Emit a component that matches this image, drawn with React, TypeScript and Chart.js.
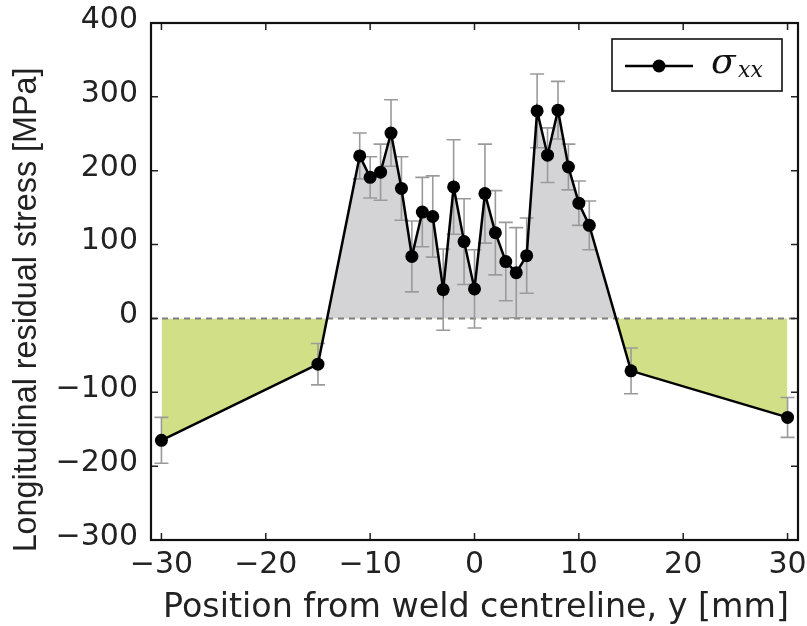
import React, { useEffect, useRef } from 'react';
import { Chart, registerables } from 'chart.js';

Chart.register(...registerables);

// Position from weld centreline, y [mm]
const positions = [-30, -15, -11, -10, -9, -8, -7, -6, -5, -4, -3, -2, -1, 0, 1, 2, 3, 4, 5, 6, 7, 8, 9, 10, 11, 15, 30];
// Longitudinal residual stress sigma_xx [MPa]
const stress = [-165, -62, 220, 191, 198, 251, 176, 84, 144, 138, 39, 178, 104, 40, 169, 116, 77, 62, 85, 281, 221, 282, 205, 156, 126, -71, -134];
// Error bar half-widths [MPa]
const errors = [31, 28, 31, 28, 38, 45, 43, 48, 47, 55, 55, 64, 58, 53, 67, 57, 53, 61, 51, 50, 37, 39, 31, 30, 33, 31, 27];

const xTicks = [-30, -20, -10, 0, 10, 20, 30];
const yTicks = [-300, -200, -100, 0, 100, 200, 300, 400];

const xTitle = 'Position from weld centreline, y [mm]';
const yTitle = 'Longitudinal residual stress [MPa]';
const legendLabel = 'σ';
const legendSub = 'xx';

const fmt = (v: number | string) => String(v).replace('-', '\u2212');

const decor = {
  id: 'decor',
  beforeDatasetDraw(chart: any) {
    const { ctx, chartArea: a, scales } = chart;
    const x = scales.x;
    const y = scales.y;
    ctx.save();
    // zero line
    const y0 = y.getPixelForValue(0);
    ctx.strokeStyle = '#7f7f7f';
    ctx.lineWidth = 2;
    ctx.setLineDash([6, 5]);
    ctx.beginPath();
    ctx.moveTo(a.left, y0);
    ctx.lineTo(a.right, y0);
    ctx.stroke();
    ctx.setLineDash([]);
    // error bars
    ctx.strokeStyle = '#9a9a9a';
    ctx.lineWidth = 1.6;
    positions.forEach((p, i) => {
      const px = x.getPixelForValue(p);
      const t = y.getPixelForValue(stress[i] + errors[i]);
      const b = y.getPixelForValue(stress[i] - errors[i]);
      ctx.beginPath();
      ctx.moveTo(px, t);
      ctx.lineTo(px, b);
      ctx.moveTo(px - 7, t);
      ctx.lineTo(px + 7, t);
      ctx.moveTo(px - 7, b);
      ctx.lineTo(px + 7, b);
      ctx.stroke();
    });
    ctx.restore();
  },
  afterDraw(chart: any) {
    const { ctx, chartArea: a, scales } = chart;
    const x = scales.x;
    const y = scales.y;
    ctx.save();
    // inward ticks
    ctx.strokeStyle = '#222';
    ctx.lineWidth = 1.5;
    const tl = 7;
    ctx.beginPath();
    xTicks.forEach((v) => {
      const px = x.getPixelForValue(v);
      ctx.moveTo(px, a.bottom);
      ctx.lineTo(px, a.bottom - tl);
      ctx.moveTo(px, a.top);
      ctx.lineTo(px, a.top + tl);
    });
    yTicks.forEach((v) => {
      const py = y.getPixelForValue(v);
      ctx.moveTo(a.left, py);
      ctx.lineTo(a.left + tl, py);
      ctx.moveTo(a.right, py);
      ctx.lineTo(a.right - tl, py);
    });
    ctx.stroke();
    // frame
    ctx.strokeStyle = '#111';
    ctx.lineWidth = 2.2;
    ctx.strokeRect(a.left, a.top, a.right - a.left, a.bottom - a.top);
    // axis titles
    ctx.fillStyle = '#222';
    ctx.textBaseline = 'alphabetic';
    ctx.textAlign = 'center';
    ctx.font = '33.3px "DejaVu Sans"';
    ctx.fillText(xTitle, 476, 617);
    ctx.save();
    ctx.translate(36, 310);
    ctx.rotate(-Math.PI / 2);
    ctx.font = '32.3px "Liberation Sans"';
    ctx.fillText(yTitle, 0, 0);
    ctx.restore();
    // legend
    const lx = 612, ly = 39, lw = 170, lh = 52;
    ctx.fillStyle = '#fff';
    ctx.fillRect(lx, ly, lw, lh);
    ctx.strokeStyle = '#111';
    ctx.lineWidth = 1.6;
    ctx.strokeRect(lx, ly, lw, lh);
    ctx.strokeStyle = '#000';
    ctx.lineWidth = 2.5;
    ctx.beginPath();
    ctx.moveTo(625, 66);
    ctx.lineTo(693, 66);
    ctx.stroke();
    ctx.fillStyle = '#000';
    ctx.beginPath();
    ctx.arc(659, 66, 6.5, 0, Math.PI * 2);
    ctx.fill();
    ctx.fillStyle = '#111';
    ctx.textAlign = 'left';
    ctx.font = 'italic 36px "DejaVu Serif"';
    ctx.fillText(legendLabel, 711, 73);
    ctx.font = 'italic 22px "DejaVu Serif"';
    ctx.fillText(legendSub, 738, 77);
    ctx.restore();
  },
};

export default function App() {
  const ref = useRef<HTMLCanvasElement>(null);
  useEffect(() => {
    document.body.style.margin = '0';
    const canvas = ref.current!;
    const chart = new Chart(canvas, {
      type: 'line',
      data: {
        datasets: [
          {
            label: 'σxx',
            data: positions.map((p, i) => ({ x: p, y: stress[i] })),
            borderColor: '#000',
            borderWidth: 2.5,
            pointRadius: 6.5,
            pointBackgroundColor: '#000',
            pointBorderColor: '#000',
            pointBorderWidth: 0,
            tension: 0,
            fill: { target: { value: 0 }, above: '#d4d4d6', below: '#d1df86' } as any,
          },
        ],
      },
      options: {
        responsive: false,
        animation: false,
        devicePixelRatio: 1,
        layout: { padding: { top: 23, right: 9, left: 0, bottom: 0 } },
        plugins: { legend: { display: false }, tooltip: { enabled: false } },
        scales: {
          x: {
            type: 'linear',
            min: -31,
            max: 31,
            afterBuildTicks: (s: any) => {
              s.ticks = xTicks.map((v) => ({ value: v }));
            },
            afterFit: (s: any) => {
              s.height = 86;
              s.paddingLeft = 0;
              s.paddingRight = 0;
            },
            grid: { display: false, drawTicks: false },
            border: { display: false },
            ticks: {
              padding: 7,
              color: '#222',
              font: { family: '"DejaVu Sans"', size: 30 },
              callback: (v: any) => fmt(v),
              maxRotation: 0,
              autoSkip: false,
            },
          },
          y: {
            type: 'linear',
            min: -300,
            max: 400,
            afterBuildTicks: (s: any) => {
              s.ticks = yTicks.map((v) => ({ value: v }));
            },
            afterFit: (s: any) => {
              s.width = 151;
              s.paddingTop = 0;
              s.paddingBottom = 0;
            },
            grid: { display: false, drawTicks: false },
            border: { display: false },
            ticks: {
              padding: 13,
              labelOffset: -3,
              color: '#222',
              font: { family: '"DejaVu Sans"', size: 30 },
              callback: (v: any) => fmt(v),
              autoSkip: false,
            },
          },
        },
      },
      plugins: [decor],
    });
    return () => chart.destroy();
  }, []);
  return (
    <div style={{ width: 807, height: 626 }}>
      <canvas ref={ref} width={807} height={626} style={{ display: 'block' }} />
    </div>
  );
}
